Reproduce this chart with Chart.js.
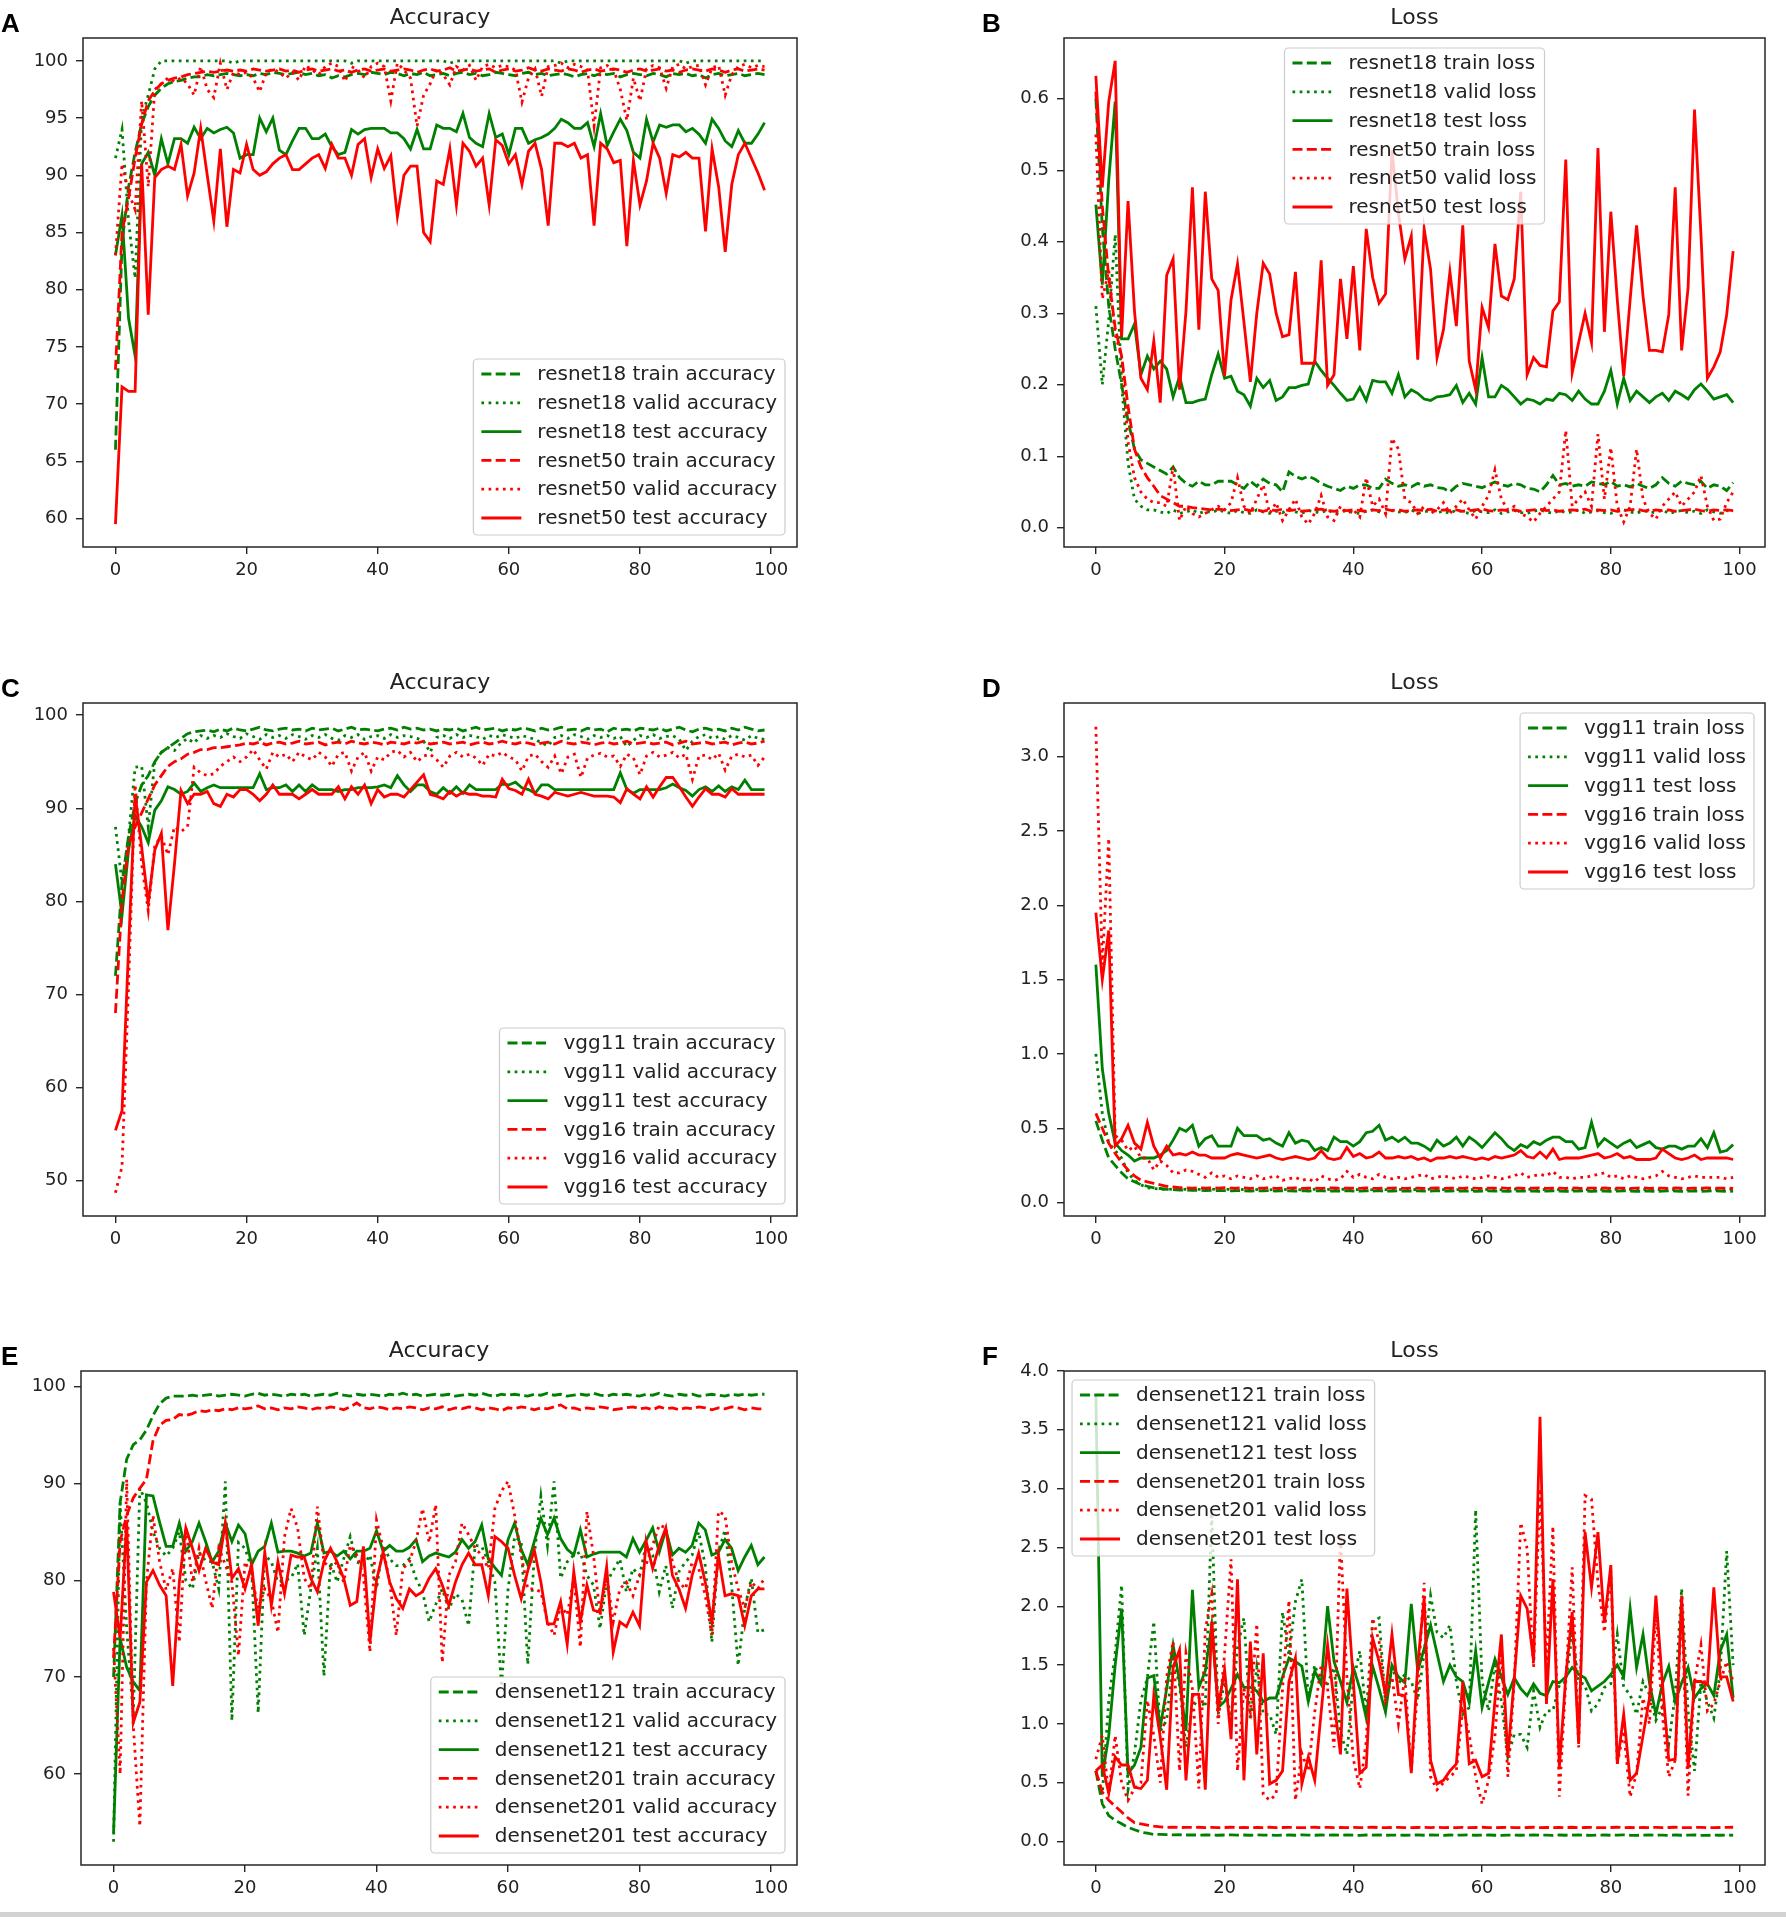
<!DOCTYPE html>
<html>
<head>
<meta charset="utf-8">
<script src="https://cdn.jsdelivr.net/npm/chart.js@4.4.1/dist/chart.umd.min.js"></script>
<style>
  body { margin: 0; background: #fff; width: 1786px; height: 1922px; position: relative; overflow: hidden; }
  canvas { position: absolute; }
  .lbl { position: absolute; font: bold 26px "Liberation Sans", Arial, sans-serif; color: #000; line-height: 26px; }
  .ttl { position: absolute; font: 22px "DejaVu Sans", sans-serif; color: #222; text-align: center; line-height: 28px; height: 28px; }
  .rule { position: absolute; left: 0; top: 1912px; width: 1786px; height: 5px; background: #d2d2d2; }
</style>
</head>
<body>
<div class="rule"></div>
<script>
// epochs on the x axis
const epochs = Array.from({ length: 100 }, (_, i) => i);
const xTicks = [0, 20, 40, 60, 80, 100];

// A: resnet accuracy
const resnet18TrainAcc = [66,84,89,92,94.5,96,97,97.6,98,98.2, 98.3,98.5,98.6,98.6,98.8,98.7,98.8,98.9,98.8,98.7, 98.8,98.7,98.9,98.8,99.0,98.9,98.8,98.9,99.0,98.8, 98.9,98.7,98.8,98.5,98.7,98.6,98.8,98.9,98.8,99.0, 98.9,98.8,99.0,98.9,98.7,98.9,98.8,99.0,98.7,98.8, 98.9,98.7,98.9,99.0,98.8,98.9,98.7,98.8,99.0,98.9, 98.8,98.7,98.9,99.0,98.8,98.9,98.7,98.8,98.9,98.8, 98.6,98.8,98.9,98.7,98.9,98.8,98.9,98.6,98.8,98.9, 98.8,98.7,98.9,98.8,98.6,98.9,98.8,98.9,98.7,98.8, 98.5,98.8,98.9,98.7,98.8,98.9,98.7,98.8,98.9,98.8];
const resnet18ValidAcc = [91.5,94,86,81,95,97,99.3,100,100,100, 100,100,100,100,100,100,100,100,99.8,100, 100,100,100,100,100,100,100,100,100,100, 100,100,100,100,100,100,99.8,100,100,100, 100,100,100,100,100,100,100,100,100,100, 100,99.8,100,100,100,100,100,100,100,100, 100,100,100,100,100,100,100,100,99.8,100, 100,100,100,100,100,100,100,100,100,100, 100,100,100,100,100,100,100,99.8,100,100, 100,100,100,100,100,100,100,100,100,100];
const resnet18TestAcc = [83,86.5,77.5,74.2,91,92,90,93.2,91,93.2, 93.2,92.8,94.2,93.2,94.1,93.7,94,94.2,93.7,91.5, 91.8,91.8,95,93.8,95,92.2,91.8,93,94.1,94.1, 93.2,93.2,93.6,92.5,91.8,92,94,93.6,94,94.1, 94.1,94.1,93.7,93.7,93.2,92.3,94,92.3,92.3,94.4, 94.1,94.1,93.8,95.4,93.3,92.8,92.5,95.4,93.3,93.6, 91.8,94.1,94.1,92.8,93.1,93.3,93.6,94.1,94.9,94.6, 94.1,94.1,94.6,92.5,95.4,92.6,93.8,94.9,93.9,92, 91.5,94.9,92.9,94.4,94.2,94.4,94.4,93.8,94.1,93.6, 92.8,94.9,94.1,93,92.5,93.9,92.8,92.8,93.6,94.6];
const resnet50TrainAcc = [73,85,88,91.5,94.5,96.5,97.4,98,98.3,98.5, 98.6,98.8,98.9,99.0,99.1,99.0,99.1,99.2,99.1,99.2, 99.1,99.3,99.2,99.1,99.2,99.3,99.1,99.2,99.0,99.2, 99.3,99.1,99.2,99.3,99.1,99.2,99.0,99.2,99.3,99.1, 99.2,99.3,99.1,99.2,99.3,99.2,99.0,99.2,99.3,99.1, 99.2,99.4,99.1,99.2,99.3,99.1,99.2,99.3,99.0,99.2, 99.3,99.1,99.2,99.4,99.2,99.1,99.3,99.2,99.1,99.3, 99.2,99.0,99.2,99.3,99.1,99.2,99.3,99.2,99.0,99.2, 99.3,99.1,99.2,99.3,99.1,99.2,99.0,99.2,99.3,99.2, 99.1,99.3,99.2,99.0,99.2,99.3,99.1,99.2,99.3,99.2];
const resnet50ValidAcc = [83,91,88.5,87,96.5,89,97.5,98,98.5,98.2, 98.5,98,97,99.5,97.5,96.8,99.8,97.5,99,98.8, 99,98.5,97.3,99,99.3,99,98.5,99,98.3,99.6, 99.2,98.8,99.5,99.8,99.5,98.2,99.5,99.2,98.5,99.5, 99.8,99.5,96.5,99.8,99.2,98.5,94.3,97,98,99.3, 98.8,97.9,99.5,99.2,99.6,98.3,99.5,99.7,99.4,99.6, 99.5,99.2,96.4,98.5,99.3,96.9,99.5,99.6,99.8,99.4, 99.7,99.5,99.2,94.3,99.4,99.6,99.2,97.5,94.8,98.5, 96.5,99.3,99.6,99.4,97.6,99.5,99.7,99.3,99.5,99.6, 97.9,99.4,99.6,97.0,98.8,99.5,99.7,99.4,99.6,99.5];
const resnet50TestAcc = [59.5,71.5,71.1,71.1,91,77.8,89.8,90.5,90.8,90.5, 92.7,88.2,90.2,94.1,90,86,92.3,85.5,90.5,90.2, 92.7,90.5,90,90.3,91,91.5,91.8,90.5,90.5,91, 91.5,91.8,90.6,92.7,91.5,91.5,90,92.7,93.2,89.8, 92.3,90.6,91.7,86.4,90,90.8,90.8,85,84.2,89.5, 89.2,92.3,87.4,92.8,92.1,90.8,91.5,87.4,93.1,92.6, 91,91.8,89.2,92.1,92.8,90.5,85.6,92.8,92.8,92.5, 92.8,91.5,91.8,85.6,92.8,92.3,91.1,91.3,83.8,91.3, 87.4,89.5,92.8,91.5,88.4,91.8,91.6,92,91.5,91.5, 85.1,92.3,89,83.3,89.2,91.8,92.8,91.5,90.2,88.7];

// B: resnet loss
const resnet18TrainLoss = [0.6,0.42,0.31,0.25,0.2,0.15,0.11,0.095,0.09,0.085, 0.08,0.075,0.085,0.07,0.062,0.058,0.065,0.06,0.06,0.065, 0.065,0.065,0.06,0.055,0.065,0.058,0.068,0.062,0.06,0.05, 0.078,0.072,0.068,0.072,0.068,0.062,0.058,0.055,0.052,0.058, 0.055,0.06,0.06,0.055,0.055,0.068,0.062,0.058,0.06,0.057, 0.062,0.058,0.06,0.056,0.055,0.05,0.058,0.062,0.06,0.058, 0.056,0.06,0.064,0.06,0.058,0.062,0.06,0.055,0.054,0.05, 0.06,0.073,0.06,0.062,0.058,0.06,0.058,0.064,0.062,0.06, 0.065,0.058,0.06,0.057,0.062,0.058,0.055,0.06,0.07,0.062, 0.058,0.065,0.062,0.06,0.065,0.055,0.06,0.058,0.052,0.063];
const resnet18ValidLoss = [0.31,0.2,0.29,0.41,0.2,0.09,0.04,0.03,0.025,0.025, 0.022,0.02,0.025,0.02,0.022,0.025,0.02,0.023,0.021,0.025, 0.022,0.02,0.024,0.021,0.02,0.025,0.022,0.02,0.023,0.021, 0.026,0.022,0.02,0.024,0.022,0.021,0.025,0.02,0.022,0.024, 0.021,0.02,0.023,0.025,0.022,0.02,0.024,0.022,0.021,0.025, 0.02,0.022,0.024,0.021,0.023,0.02,0.025,0.022,0.02,0.024, 0.022,0.021,0.025,0.02,0.022,0.024,0.021,0.02,0.023,0.025, 0.022,0.02,0.024,0.021,0.022,0.025,0.02,0.022,0.024,0.021, 0.02,0.023,0.025,0.022,0.02,0.024,0.022,0.021,0.025,0.02, 0.022,0.024,0.021,0.023,0.02,0.025,0.022,0.02,0.024,0.022];
const resnet18TestLoss = [0.452,0.34,0.486,0.596,0.264,0.264,0.285,0.214,0.24,0.222, 0.233,0.222,0.183,0.212,0.175,0.175,0.178,0.18,0.214,0.243, 0.209,0.212,0.191,0.186,0.17,0.209,0.196,0.206,0.178,0.183, 0.196,0.196,0.199,0.201,0.233,0.22,0.209,0.199,0.188,0.178, 0.18,0.196,0.178,0.206,0.204,0.204,0.188,0.214,0.183,0.193, 0.188,0.18,0.178,0.183,0.184,0.186,0.199,0.175,0.188,0.173, 0.238,0.183,0.183,0.199,0.193,0.183,0.173,0.18,0.178,0.173, 0.18,0.178,0.188,0.186,0.178,0.191,0.18,0.173,0.173,0.191, 0.22,0.173,0.209,0.178,0.191,0.183,0.175,0.183,0.188,0.178, 0.191,0.186,0.18,0.193,0.201,0.191,0.18,0.183,0.186,0.175];
const resnet50TrainLoss = [0.61,0.45,0.35,0.28,0.24,0.17,0.11,0.085,0.07,0.058, 0.045,0.04,0.035,0.03,0.03,0.028,0.027,0.026,0.025,0.026, 0.025,0.024,0.025,0.026,0.024,0.025,0.023,0.025,0.024,0.026, 0.024,0.025,0.023,0.024,0.025,0.026,0.024,0.023,0.025,0.024, 0.025,0.024,0.023,0.025,0.024,0.026,0.024,0.025,0.023,0.024, 0.025,0.024,0.026,0.023,0.025,0.024,0.025,0.023,0.024,0.025, 0.026,0.024,0.023,0.025,0.024,0.025,0.023,0.024,0.025,0.026, 0.024,0.025,0.023,0.024,0.025,0.024,0.026,0.023,0.025,0.024, 0.025,0.023,0.024,0.025,0.026,0.024,0.023,0.025,0.024,0.025, 0.023,0.024,0.025,0.026,0.024,0.023,0.025,0.024,0.025,0.024];
const resnet50ValidLoss = [0.55,0.32,0.36,0.27,0.24,0.12,0.07,0.05,0.04,0.035, 0.035,0.03,0.085,0.01,0.03,0.02,0.015,0.02,0.025,0.03, 0.025,0.035,0.07,0.03,0.02,0.04,0.06,0.02,0.035,0.01, 0.025,0.04,0.015,0.005,0.02,0.045,0.015,0.01,0.03,0.02, 0.025,0.015,0.07,0.03,0.04,0.02,0.125,0.11,0.04,0.035, 0.02,0.03,0.02,0.025,0.035,0.02,0.03,0.04,0.025,0.012, 0.03,0.045,0.081,0.04,0.025,0.03,0.02,0.015,0.008,0.02, 0.03,0.04,0.05,0.136,0.03,0.04,0.05,0.03,0.131,0.04, 0.112,0.03,0.008,0.03,0.11,0.04,0.02,0.012,0.03,0.04, 0.05,0.03,0.04,0.05,0.073,0.03,0.01,0.012,0.035,0.05];
const resnet50TestLoss = [0.632,0.476,0.596,0.653,0.267,0.457,0.303,0.209,0.193,0.261, 0.175,0.353,0.376,0.193,0.303,0.476,0.277,0.47,0.348,0.332, 0.212,0.319,0.369,0.288,0.204,0.3,0.37,0.355,0.3,0.267, 0.27,0.358,0.23,0.23,0.23,0.374,0.199,0.214,0.348,0.264, 0.366,0.248,0.418,0.35,0.314,0.327,0.528,0.44,0.376,0.408, 0.235,0.418,0.361,0.238,0.277,0.358,0.282,0.423,0.233,0.193, 0.308,0.28,0.397,0.324,0.319,0.348,0.47,0.214,0.238,0.227, 0.225,0.303,0.316,0.515,0.217,0.259,0.3,0.259,0.531,0.274, 0.442,0.319,0.212,0.319,0.423,0.324,0.248,0.248,0.246,0.298, 0.476,0.248,0.335,0.585,0.41,0.209,0.225,0.246,0.298,0.387];

// C: vgg accuracy
const vgg11TrainAcc = [72,82,87,90.5,92.5,93.5,95,96,96.5,97, 97.5,98,98.2,98.3,98.4,98.2,98.5,98.3,98.6,98.4, 98.3,98.5,98.7,98.4,98.3,98.5,98.6,98.4,98.5,98.3, 98.6,98.4,98.5,98.6,98.3,98.5,98.7,98.4,98.5,98.4, 98.3,98.5,98.6,98.4,98.7,98.5,98.6,98.4,98.5,98.3, 98.5,98.4,98.6,98.3,98.5,98.7,98.4,98.5,98.6,98.3, 98.5,98.4,98.6,98.5,98.3,98.6,98.4,98.5,98.7,98.4, 98.5,98.3,98.6,98.4,98.5,98.2,98.6,98.4,98.5,98.3, 98.6,98.5,98.4,98.6,98.3,98.5,98.7,98.4,98.2,98.5, 98.6,98.4,98.5,98.3,98.6,98.4,98.7,98.5,98.3,98.4];
const vgg11ValidAcc = [88,82,87,94.4,94.5,88,95,96,96.5,96.2, 97,97.5,97,97.8,97.5,97.8,97.6,98,97.7,97.5, 98,97.7,97.4,97.9,97.6,97.8,97.5,97.9,97.7,97.4, 97.8,97.6,97.9,97.5,97.3,97.8,97.6,97.9,97.4,97.7, 97.8,97.5,97.9,97.6,97.8,97.7,97.5,97.2,96,97.6, 97.8,97.5,97.9,97.6,97.8,97.7,97.4,97.8,97.6,97.9, 97.7,97.5,97.8,97.6,97.4,97,96.7,97.6,97.8,97.5, 97.9,97.7,97.4,97.8,97.6,97.8,97.5,97.7,96.6,97.3, 97.8,97.6,97.9,97.5,97.7,97.8,97.4,96.2,97.2,97.7, 97.9,97.5,97.7,97.4,97.8,97.6,97.3,97.8,97.5,97.4];
const vgg11TestAcc = [84,78.5,85.5,89.2,88,86.3,89.8,90.8,92.3,92, 91.5,91.8,92.7,91.8,92.2,92.5,92.2,92.2,92.2,92.2, 92.2,92.2,93.7,92,92.2,92.2,92.5,91.8,92.5,91.8, 92.5,92,92,92,91.8,92,92,92.2,92.2,92.2, 92.3,92.5,92.2,93.5,92.5,91.8,92.5,92.5,91.8,91.5, 92.2,91.6,92.3,91.6,92.5,92,92,92,92,92.6, 92.5,92.8,92.2,92,91.6,92.5,92.5,92,92,92, 92,92,92,92,92,92,92,93.8,92,91.6, 92,92,92,92,92.2,92.6,92.2,91.9,91.3,92, 92.3,91.8,92.4,91.8,92.3,92,93,92,92,92];
const vgg16TrainAcc = [68,80,86,88,89.5,91,92.5,93.5,94.5,95, 95.3,95.8,96,96.3,96.3,96.5,96.5,96.6,96.7,96.8, 97,96.9,97.1,96.8,97,97.1,96.9,97,97.2,96.9, 97,97.1,96.8,97,97.1,96.9,97.2,97,96.9,97.1, 97,96.8,97.1,97,96.9,97.1,97,97.2,96.9,97, 97.1,96.9,97,97.1,96.8,97,97.1,96.9,97,97.2, 97,96.9,97.1,97,96.8,97,97.1,96.9,97.2,97, 96.9,97.1,97,96.8,97,97.1,96.9,97,97.2,96.9, 97,97.1,96.9,97,97.1,96.8,97,97.2,96.9,97, 97.1,96.9,97,97.1,96.8,97,97.1,96.9,97,97.2];
const vgg16ValidAcc = [48.7,51.5,71,92.5,84,79,86,87,85,88, 87.5,88,94.4,93.8,93.5,93.7,94.5,95,95.5,95, 95.5,96.3,95.2,94.2,96,95.5,95.8,95,96,95.5, 95.2,96,95.5,94.5,95.8,96,94,95.5,96,94, 95.5,95.2,96,96.2,95.5,96,95,95.6,95.8,95.2, 94.4,95.6,96,95.5,95.8,95.4,94.6,95.8,95.6,96, 95.5,95.2,94,95.6,95.8,95,94.4,95.6,93.7,95.5, 95.8,93.3,95.4,95.7,95.9,95.5,95.6,94.5,95.8,95.4, 93.6,95.6,96,95.5,95.7,96,95.4,95.8,93.1,95.6, 95.7,95.2,95.9,94.1,95.6,95.8,95.5,95.7,94.6,95.5];
const vgg16TestAcc = [55.4,57.5,75,91.5,85.8,79.8,85.5,87.3,76.9,84, 91.9,90.5,91.5,91.5,91.8,90.5,90.2,91.5,91.2,92, 92,91.5,90.8,91.5,92.5,91.5,91.5,91.5,91,91.5, 92,91.5,91.5,91.5,92.3,91,92.3,91.5,92.5,90.5, 92,91.2,91.5,91.5,91.2,92,92.8,93.6,91.5,91.3, 91,91.8,91.3,91.7,91.5,91.5,91.3,91.3,91.2,93.1, 92.1,91.9,91.5,93.1,91.5,91.3,91,91.7,91.5,91.3, 91.5,91.7,91.5,91.3,91.3,91.3,91.2,90.6,92.1,91.5, 91,92.3,91.2,92.3,93.3,93.3,92.3,91.2,90.2,91.2, 92.1,91.5,91.5,91.2,92.1,91.5,91.5,91.5,91.5,91.5];

// D: vgg loss
const vgg11TrainLoss = [0.55,0.42,0.3,0.25,0.2,0.16,0.14,0.12,0.11,0.1, 0.095,0.09,0.088,0.085,0.084,0.082,0.083,0.08,0.082,0.081, 0.08,0.079,0.081,0.08,0.078,0.08,0.079,0.081,0.078,0.08, 0.079,0.077,0.08,0.078,0.079,0.08,0.077,0.079,0.078,0.08, 0.078,0.077,0.079,0.078,0.08,0.077,0.078,0.079,0.077,0.078, 0.079,0.077,0.078,0.08,0.077,0.078,0.079,0.077,0.078,0.076, 0.078,0.079,0.077,0.078,0.076,0.078,0.079,0.077,0.078,0.076, 0.077,0.079,0.078,0.076,0.077,0.078,0.079,0.076,0.077,0.078, 0.076,0.077,0.079,0.078,0.076,0.077,0.078,0.076,0.077,0.079, 0.078,0.076,0.077,0.078,0.076,0.077,0.079,0.078,0.076,0.077];
const vgg11ValidLoss = [1.0,0.6,0.4,0.35,0.3,0.2,0.15,0.12,0.1,0.095, 0.09,0.088,0.092,0.087,0.09,0.086,0.089,0.088,0.091,0.087, 0.088,0.09,0.086,0.089,0.087,0.088,0.091,0.086,0.088,0.09, 0.087,0.089,0.086,0.088,0.09,0.087,0.089,0.086,0.088,0.091, 0.087,0.088,0.09,0.086,0.089,0.087,0.088,0.09,0.086,0.089, 0.087,0.088,0.091,0.086,0.088,0.09,0.087,0.089,0.086,0.088, 0.09,0.087,0.089,0.086,0.088,0.091,0.087,0.088,0.09,0.086, 0.089,0.087,0.088,0.09,0.086,0.089,0.087,0.088,0.091,0.086, 0.088,0.09,0.087,0.089,0.086,0.088,0.09,0.087,0.089,0.086, 0.088,0.091,0.087,0.088,0.09,0.086,0.089,0.087,0.088,0.09];
const vgg11TestLoss = [1.6,0.9,0.6,0.4,0.35,0.32,0.28,0.3,0.3,0.3, 0.32,0.35,0.42,0.5,0.48,0.52,0.38,0.43,0.45,0.38, 0.38,0.38,0.5,0.45,0.45,0.45,0.42,0.43,0.4,0.38, 0.47,0.4,0.42,0.41,0.35,0.37,0.35,0.44,0.41,0.41, 0.38,0.41,0.47,0.48,0.52,0.42,0.44,0.41,0.44,0.4, 0.4,0.38,0.35,0.42,0.38,0.4,0.44,0.38,0.44,0.41, 0.37,0.42,0.47,0.43,0.38,0.35,0.39,0.37,0.41,0.39, 0.42,0.44,0.44,0.41,0.41,0.36,0.37,0.54,0.38,0.43, 0.4,0.37,0.4,0.42,0.37,0.39,0.41,0.37,0.36,0.38, 0.38,0.36,0.38,0.38,0.43,0.37,0.47,0.34,0.35,0.39];
const vgg16TrainLoss = [0.6,0.5,0.4,0.33,0.27,0.22,0.18,0.15,0.14,0.13, 0.12,0.11,0.105,0.1,0.1,0.098,0.1,0.097,0.099,0.098, 0.1,0.097,0.098,0.099,0.096,0.098,0.097,0.099,0.096,0.098, 0.097,0.099,0.096,0.098,0.097,0.096,0.098,0.099,0.096,0.097, 0.098,0.096,0.099,0.097,0.096,0.098,0.097,0.099,0.096,0.098, 0.097,0.096,0.098,0.099,0.096,0.097,0.098,0.096,0.099,0.097, 0.096,0.098,0.097,0.099,0.096,0.098,0.097,0.096,0.098,0.099, 0.096,0.097,0.098,0.096,0.099,0.097,0.096,0.098,0.097,0.099, 0.096,0.098,0.097,0.096,0.098,0.099,0.096,0.097,0.098,0.096, 0.099,0.097,0.096,0.098,0.097,0.099,0.096,0.098,0.097,0.096];
const vgg16ValidLoss = [3.2,1.6,2.45,0.45,0.42,0.35,0.38,0.3,0.3,0.22, 0.28,0.25,0.2,0.2,0.22,0.21,0.19,0.17,0.2,0.17, 0.18,0.16,0.18,0.17,0.16,0.18,0.16,0.17,0.18,0.15, 0.16,0.17,0.15,0.16,0.14,0.18,0.16,0.15,0.16,0.21, 0.17,0.19,0.17,0.16,0.19,0.17,0.16,0.17,0.16,0.17, 0.18,0.19,0.16,0.17,0.18,0.17,0.16,0.18,0.17,0.16, 0.17,0.18,0.17,0.16,0.17,0.18,0.2,0.17,0.18,0.19, 0.18,0.21,0.17,0.17,0.16,0.17,0.17,0.18,0.19,0.2, 0.17,0.18,0.16,0.18,0.17,0.16,0.17,0.18,0.21,0.18, 0.17,0.16,0.17,0.18,0.17,0.17,0.17,0.17,0.16,0.17];
const vgg16TestLoss = [1.95,1.5,1.83,0.38,0.43,0.52,0.4,0.36,0.54,0.38, 0.3,0.38,0.32,0.33,0.32,0.34,0.32,0.32,0.3,0.3, 0.3,0.32,0.33,0.32,0.31,0.3,0.31,0.32,0.3,0.29, 0.3,0.31,0.3,0.29,0.3,0.35,0.3,0.29,0.3,0.37, 0.31,0.33,0.3,0.31,0.34,0.3,0.3,0.31,0.3,0.31, 0.29,0.3,0.28,0.3,0.3,0.31,0.3,0.31,0.3,0.29, 0.3,0.29,0.31,0.3,0.31,0.32,0.35,0.31,0.3,0.34, 0.3,0.36,0.29,0.3,0.3,0.3,0.31,0.32,0.33,0.3, 0.31,0.33,0.3,0.31,0.29,0.29,0.29,0.3,0.36,0.33, 0.3,0.29,0.3,0.32,0.29,0.3,0.3,0.3,0.3,0.29];

// E: densenet accuracy
const densenet121TrainAcc = [70,88,92.5,94,94.5,95.5,97,98.2,98.8,99, 99,99,99.1,99,99.1,99.2,99,99.1,99.2,99.1, 99,99.2,99.3,99.1,99.2,99.1,99,99.2,99.1,99.2, 99,99.1,99.2,99.1,99.3,99.1,99,99.2,99.1,99.2, 99.1,99,99.2,99.1,99.3,99.1,99.2,99,99.1,99.2, 99.1,99.2,99,99.1,99.2,99.1,99.3,99.1,99,99.2, 99.1,99.2,99.1,99,99.2,99.1,99.3,99.1,99.2,99, 99.1,99.2,99.1,99.3,99.1,99,99.2,99.1,99.2,99.1, 99,99.2,99.1,99.3,99.1,99,99.2,99.1,99.2,99, 99.1,99.2,99.1,99,99.2,99.1,99.2,99.1,99.2,99.2];
const densenet121ValidAcc = [53,88,75,66,89.5,88,85,83.3,82.5,83.3, 85,80,79.1,82.9,82,81.9,79.1,90.2,65.5,83.9, 83.3,81.2,66.3,82.6,81.9,79.8,80,80.2,81.7,74.3, 79.1,83.3,70.1,81.9,79.8,82.2,84.5,81.9,81.5,82.6, 79.1,83.6,82.2,81.5,81.5,82.2,80.2,78.8,75.7,77.5, 79.1,77,78.6,78,75.3,83.6,83.5,81.9,79.8,69, 79,84.5,84,71.3,82.6,88.7,83.6,90.2,80.2,81.9, 82.6,82.9,80.5,79.5,75,79.8,81,82.2,78.8,81.2, 80.5,83.6,82.6,78.8,81.5,77.1,80.9,81.9,82.6,85, 81.5,73.6,82.9,85.2,79.5,71.2,77.1,80.2,74.6,74.9];
const densenet121TestAcc = [53.9,74,71,69.5,68.6,88.8,88.7,86,83.5,83.5, 85.9,83,84,85.9,84,81.9,83,85.9,84,85.7, 84.8,81.6,83,83.5,85.9,82.9,83,83,82.8,82.5, 82.8,85.9,82.8,83,82.5,83,82.2,83,83,83.3, 85.1,83,83.6,83,83,83.4,84.2,81.9,82.5,82.8, 82.6,82.4,82.9,84.2,83.3,84,85.7,82.2,81.3,80.5, 84.2,85.9,83.2,81.6,84,86.4,84.7,86.4,84.3,83.2, 82.6,85.2,82.4,82.7,82.9,82.9,82.9,82.9,82.4,84.3, 82.9,84.1,85.4,82.9,85.2,82.6,83.3,82.9,83.6,85.9, 85.2,82.6,82.9,84.2,83.3,81,82.4,83.6,81.6,82.4];
const densenet201TrainAcc = [72,84,86.7,88.5,89.5,90.4,94.4,96,96.5,96.6, 97.1,97,97.2,97.5,97.4,97.6,97.5,97.7,97.6,97.8, 97.7,97.8,98,97.7,97.8,97.6,97.8,97.7,97.9,97.8, 97.6,97.8,97.7,97.9,97.8,97.6,97.9,98.3,97.8,97.7, 97.9,97.8,97.6,97.8,97.7,97.9,97.8,97.6,97.8,97.7, 97.9,97.6,97.8,97.7,97.9,97.8,97.6,97.8,97.7,97.5, 97.8,97.7,97.9,97.8,97.6,97.8,97.7,97.9,98.1,97.7, 97.8,97.6,97.8,97.7,97.9,97.8,97.6,97.7,97.8,97.9, 97.7,97.8,97.6,97.9,97.7,97.8,97.6,97.8,97.7,97.9, 97.8,97.6,97.8,97.7,97.9,97.8,97.6,97.8,97.7,97.7];
const densenet201ValidAcc = [73,60,90.4,65,54.6,79.8,86.7,81.9,79,81.2, 73.6,85.5,79.8,83.3,80,77.1,83.3,81.6,79.8,72.2, 81.9,80.5,77.1,79.1,78,74.6,84.5,87.4,85.4,80.2, 79.1,87.6,81.9,81.2,81.9,79.8,83.6,82.6,80.5,72.6, 86.2,83.3,79.8,74.3,81.2,81.9,84,87.4,83.9,87.8, 71.5,80.5,81.9,85.9,84.7,83.3,82.6,81.2,87.4,89.2, 90.2,86.7,82.6,79.1,79.1,78.8,75.7,74.3,77.4,76.4, 80.2,73.1,87.1,82.6,76.4,80.5,75.7,79.1,79.8,78.4, 80.5,81.6,83.6,85.7,85.4,81.9,79.8,79.1,81.9,81.2, 78.4,74.3,87.1,86.7,81.9,79.1,77.1,79.8,79.1,80.2];
const densenet201TestAcc = [78.8,74,86,65.3,67.4,79.8,81,79.5,78.4,69.1, 79.8,85.4,83.3,81,83.3,81.9,81.6,85.9,80.2,81.2, 79.1,81.6,75.3,82.9,77.4,81.9,78.6,82.6,82.4,82.4, 80.2,78.8,81.9,83.3,81.9,80.2,77.4,77.8,83.5,73.6, 80,82.9,79.8,78.1,77.1,79.1,78.4,78.8,80.2,81.2, 79.5,77.4,79.8,81.6,82.8,81.6,81.6,78.4,84.5,84, 83.3,80.5,78.1,81,83.1,79.8,75.5,75.5,77.8,73.4, 80.9,75.7,79.5,76.9,76.7,81.4,72.6,75.7,75.2,76.7, 75.3,84,81.2,83.6,85.4,80.5,79.1,77.1,80.5,82.8, 79.8,75.7,82.6,78.4,78.6,78.4,75.3,78.4,79.1,79.1];

// F: densenet loss
const densenet121TrainLoss = [0.6,0.32,0.22,0.18,0.15,0.12,0.1,0.08,0.07,0.06, 0.06,0.058,0.056,0.057,0.055,0.056,0.054,0.056,0.055,0.053, 0.055,0.056,0.054,0.055,0.053,0.056,0.054,0.055,0.052,0.054, 0.055,0.053,0.056,0.054,0.053,0.055,0.054,0.056,0.053,0.055, 0.054,0.052,0.055,0.054,0.056,0.053,0.054,0.055,0.053,0.054, 0.056,0.053,0.055,0.054,0.052,0.055,0.053,0.054,0.056,0.053, 0.054,0.055,0.053,0.052,0.054,0.055,0.053,0.054,0.056,0.053, 0.054,0.052,0.055,0.053,0.054,0.055,0.053,0.052,0.054,0.055, 0.053,0.054,0.056,0.053,0.052,0.054,0.055,0.053,0.054,0.052, 0.055,0.053,0.054,0.056,0.053,0.052,0.054,0.053,0.055,0.053];
const densenet121ValidLoss = [0.6,0.4,1.2,1.6,2.18,0.44,0.75,1.2,1.39,1.87, 0.94,1.03,1.56,1.33,0.8,1.14,1.22,1.14,2.8,1.08, 1.36,1.03,1.65,1.9,1.03,1.48,1.08,1.08,0.91,1.95, 1.58,2.04,2.23,1.19,1.5,1.34,1.34,1.48,0.94,0.74, 1.36,1.62,1.08,1.87,1.9,1.17,1.48,1.34,1.42,1.36, 1.2,1.6,2.09,1.78,1.73,1.84,1.36,1.08,1.14,2.82, 1.36,1.11,1.5,1.19,0.72,0.91,0.91,0.8,1.28,0.97, 1.11,1.11,1.33,1.36,1.76,1.36,1.33,1.11,1.17,1.31, 1.34,1.76,1.31,1.25,1.08,1.36,1.25,1.03,1.14,0.83, 1.25,2.15,1.11,0.6,1.36,1.19,1.05,1.45,2.47,1.5];
const densenet121TestLoss = [3.8,0.55,0.9,1.5,1.98,0.58,0.65,0.8,1.39,1.41, 0.97,1.3,1.67,1.36,0.94,2.14,1.31,1.45,1.84,1.14, 1.19,1.3,1.42,1.31,1.31,1.28,1.19,1.22,1.22,1.4, 1.56,1.53,1.49,1.19,1.45,1.34,2.0,1.53,1.36,1.18, 1.48,1.3,1.05,1.49,1.3,1.1,1.5,1.4,1.35,2.02, 1.45,1.64,1.84,1.6,1.36,1.5,1.4,1.36,1.18,1.62, 1.14,1.35,1.55,1.4,1.25,1.39,1.3,1.24,1.34,1.26, 1.24,1.36,1.35,1.4,1.48,1.42,1.39,1.28,1.32,1.36, 1.42,1.5,1.4,1.98,1.48,1.76,1.35,1.08,1.34,1.49, 1.19,1.35,1.48,1.22,1.3,1.34,1.24,1.62,1.76,1.22];
const densenet201TrainLoss = [0.6,0.42,0.35,0.3,0.25,0.2,0.16,0.15,0.14,0.13, 0.125,0.12,0.122,0.118,0.12,0.119,0.121,0.118,0.12,0.117, 0.119,0.121,0.118,0.12,0.117,0.119,0.118,0.121,0.117,0.119, 0.12,0.118,0.117,0.119,0.121,0.118,0.12,0.117,0.119,0.118, 0.12,0.117,0.119,0.121,0.118,0.117,0.119,0.12,0.118,0.117, 0.119,0.121,0.118,0.12,0.117,0.119,0.118,0.12,0.117,0.119, 0.121,0.118,0.117,0.119,0.12,0.118,0.117,0.119,0.121,0.118, 0.12,0.117,0.119,0.118,0.121,0.117,0.119,0.12,0.118,0.117, 0.119,0.121,0.118,0.12,0.117,0.119,0.118,0.12,0.117,0.119, 0.121,0.118,0.117,0.119,0.12,0.118,0.117,0.119,0.12,0.121];
const densenet201ValidLoss = [0.7,0.9,0.4,0.9,0.5,0.35,0.45,0.5,1.2,0.9, 0.5,1.4,1.7,0.6,1.6,1.3,0.45,1.8,2.1,1.0, 1.6,2.4,0.6,1.3,1.1,1.85,0.4,0.35,0.4,1.3, 2.05,0.35,0.75,0.6,1.1,1.5,1.3,0.8,2.6,1.4, 0.7,0.45,0.85,1.9,1.7,1.2,1.4,1.0,1.4,0.6, 1.3,2.2,0.55,0.44,0.5,0.55,0.6,1.14,0.91,0.55, 0.32,0.52,0.9,1.62,0.55,1.36,2.71,2.49,1.48,3.0, 1.5,2.68,0.38,1.36,2.33,0.8,2.94,2.91,2.2,1.78, 2.3,0.66,0.94,0.38,0.58,1.22,1.0,1.95,1.08,0.55, 0.69,2.03,0.39,1.36,1.67,1.11,1.17,1.36,1.53,1.36];
const densenet201TestLoss = [0.6,0.65,0.41,0.72,0.65,0.65,0.46,0.45,0.52,1.24, 0.89,0.44,1.48,1.63,0.52,1.25,1.25,0.44,1.87,1.14, 1.46,0.87,2.23,0.52,1.7,0.74,1.6,0.49,0.52,0.6, 1.36,1.56,0.49,0.72,0.52,1.1,1.67,1.19,0.74,2.15, 1.36,0.58,0.63,1.73,1.53,1.25,1.76,1.25,1.24,0.58, 1.5,2.07,0.69,0.49,0.52,0.6,0.66,1.36,0.66,0.69, 0.55,0.58,1.2,1.76,0.72,1.39,2.09,1.98,1.53,3.61, 1.17,2.23,0.63,1.4,1.95,0.83,2.63,2.16,2.63,1.86, 2.35,0.66,1.08,0.52,0.58,0.9,1.22,2.09,1.36,0.69, 0.7,2.09,0.62,1.36,1.36,1.33,2.16,1.4,1.4,1.19];

// tick values
const ticksA = [60, 65, 70, 75, 80, 85, 90, 95, 100];
const ticksB = [0, 0.1, 0.2, 0.3, 0.4, 0.5, 0.6];
const ticksC = [50, 60, 70, 80, 90, 100];
const ticksD = [0, 0.5, 1, 1.5, 2, 2.5, 3];
const ticksE = [60, 70, 80, 90, 100];
const ticksF = [0, 0.5, 1, 1.5, 2, 2.5, 3, 3.5, 4];

const splits = ['train', 'valid', 'test'];
const GREEN = '#008000';
const RED = '#ff0000';
const DASHED = [10, 4.3];
const DOTTED = [2.7, 4.5];

const panels = [
  { letter: 'A', title: 'Accuracy', models: ['resnet18', 'resnet50'], kind: 'accuracy',
    data: [resnet18TrainAcc, resnet18ValidAcc, resnet18TestAcc, resnet50TrainAcc, resnet50ValidAcc, resnet50TestAcc],
    left: 83, top: 38, w: 714, h: 509, yMin: 57.5, yMax: 102, ticks: ticksA, dec: 0, loc: 'lower right' },
  { letter: 'B', title: 'Loss', models: ['resnet18', 'resnet50'], kind: 'loss',
    data: [resnet18TrainLoss, resnet18ValidLoss, resnet18TestLoss, resnet50TrainLoss, resnet50ValidLoss, resnet50TestLoss],
    left: 1064, top: 38, w: 701, h: 509, yMin: -0.027, yMax: 0.685, ticks: ticksB, dec: 1, loc: 'upper center' },
  { letter: 'C', title: 'Accuracy', models: ['vgg11', 'vgg16'], kind: 'accuracy',
    data: [vgg11TrainAcc, vgg11ValidAcc, vgg11TestAcc, vgg16TrainAcc, vgg16ValidAcc, vgg16TestAcc],
    left: 83, top: 703, w: 714, h: 513, yMin: 46.2, yMax: 101.3, ticks: ticksC, dec: 0, loc: 'lower right' },
  { letter: 'D', title: 'Loss', models: ['vgg11', 'vgg16'], kind: 'loss',
    data: [vgg11TrainLoss, vgg11ValidLoss, vgg11TestLoss, vgg16TrainLoss, vgg16ValidLoss, vgg16TestLoss],
    left: 1064, top: 703, w: 701, h: 513, yMin: -0.09, yMax: 3.36, ticks: ticksD, dec: 1, loc: 'upper right' },
  { letter: 'E', title: 'Accuracy', models: ['densenet121', 'densenet201'], kind: 'accuracy',
    data: [densenet121TrainAcc, densenet121ValidAcc, densenet121TestAcc, densenet201TrainAcc, densenet201ValidAcc, densenet201TestAcc],
    left: 81, top: 1371, w: 716, h: 494, yMin: 50.6, yMax: 101.6, ticks: ticksE, dec: 0, loc: 'lower right' },
  { letter: 'F', title: 'Loss', models: ['densenet121', 'densenet201'], kind: 'loss',
    data: [densenet121TrainLoss, densenet121ValidLoss, densenet121TestLoss, densenet201TrainLoss, densenet201ValidLoss, densenet201TestLoss],
    left: 1064, top: 1371, w: 701, h: 494, yMin: -0.2, yMax: 4.0, ticks: ticksF, dec: 1, loc: 'upper left' }
];

// black box round the plot area, like matplotlib spines
const axesFrame = {
  id: 'axesFrame',
  afterDatasetsDraw(chart) {
    const { ctx, chartArea: a } = chart;
    ctx.save();
    ctx.strokeStyle = '#262626';
    ctx.lineWidth = 1.5;
    ctx.strokeRect(a.left, a.top, a.right - a.left, a.bottom - a.top);
    ctx.restore();
  }
};

// legend drawn inside the axes
const boxLegend = {
  id: 'boxLegend',
  afterDraw(chart, args, opts) {
    const { ctx, chartArea: a } = chart;
    const ds = chart.data.datasets;
    ctx.save();
    ctx.font = '20px "DejaVu Sans"';
    const textW = Math.max(...ds.map(d => ctx.measureText(d.label).width));
    const pad = 8, handle = 40, gap = 16, row = 28.8;
    const w = pad + handle + gap + textW + pad;
    const h = 15 + row * (ds.length - 1) + 17;
    let x, y;
    if (opts.loc === 'lower right') { x = a.right - 12 - w; y = a.bottom - 12 - h; }
    else if (opts.loc === 'upper right') { x = a.right - 11 - w; y = a.top + 10; }
    else if (opts.loc === 'upper center') { x = (a.left + a.right - w) / 2; y = a.top + 10; }
    else { x = a.left + 8; y = a.top + 9; }
    ctx.beginPath();
    ctx.roundRect(x, y, w, h, 4);
    ctx.fillStyle = 'rgba(255,255,255,0.8)';
    ctx.fill();
    ctx.strokeStyle = '#cccccc';
    ctx.lineWidth = 1.2;
    ctx.stroke();
    ds.forEach((d, i) => {
      const cy = y + 15 + i * row;
      ctx.strokeStyle = d.borderColor;
      ctx.lineWidth = d.borderWidth;
      ctx.setLineDash(d.borderDash || []);
      ctx.beginPath();
      ctx.moveTo(x + pad, cy);
      ctx.lineTo(x + pad + handle, cy);
      ctx.stroke();
      ctx.setLineDash([]);
      ctx.fillStyle = '#222';
      ctx.textBaseline = 'middle';
      ctx.fillText(d.label, x + pad + handle + gap, cy + 1);
    });
    ctx.restore();
  }
};

const tickFont = { family: 'DejaVu Sans', size: 18 };
const tickGrid = { display: true, drawOnChartArea: false, drawTicks: true, tickLength: 7, color: '#262626', lineWidth: 1.4 };

function addText(cls, text, left, top, width) {
  const el = document.createElement('div');
  el.className = cls;
  el.textContent = text;
  el.style.left = left + 'px';
  el.style.top = top + 'px';
  if (width) el.style.width = width + 'px';
  document.body.appendChild(el);
}

panels.forEach(p => {
  const padL = 80, padT = 26, padR = 12, padB = 50;
  const W = p.w + padL + padR, H = p.h + padT + padB;
  const canvas = document.createElement('canvas');
  canvas.width = W;
  canvas.height = H;
  canvas.style.left = (p.left - padL) + 'px';
  canvas.style.top = (p.top - padT) + 'px';
  canvas.style.width = W + 'px';
  canvas.style.height = H + 'px';
  document.body.appendChild(canvas);

  addText('lbl', p.letter, p.left < 500 ? 1 : 982, p.top - 28);
  addText('ttl', p.title, p.left, p.top - 35, p.w);

  const datasets = p.data.map((values, i) => ({
    label: p.models[Math.floor(i / 3)] + ' ' + splits[i % 3] + ' ' + p.kind,
    data: values,
    borderColor: i < 3 ? GREEN : RED,
    borderDash: i % 3 === 0 ? DASHED : (i % 3 === 1 ? DOTTED : []),
    borderWidth: 2.8,
    pointRadius: 0,
    tension: 0,
    fill: false,
    order: -i
  }));

  new Chart(canvas, {
    type: 'line',
    data: { labels: epochs, datasets },
    options: {
      responsive: false,
      animation: false,
      devicePixelRatio: 1,
      events: [],
      layout: { padding: { left: 0, top: padT, right: padR, bottom: 0 } },
      plugins: { legend: { display: false }, tooltip: { enabled: false }, boxLegend: { loc: p.loc } },
      scales: {
        x: {
          type: 'linear', min: -4.95, max: 103.95,
          afterBuildTicks: s => { s.ticks = xTicks.map(v => ({ value: v })); },
          afterFit: s => { s.height = padB; },
          grid: tickGrid, border: { display: false },
          ticks: { font: tickFont, color: '#222', padding: 6, maxRotation: 0, autoSkip: false, callback: v => String(v) }
        },
        y: {
          type: 'linear', min: p.yMin, max: p.yMax,
          afterBuildTicks: s => { s.ticks = p.ticks.map(v => ({ value: v })); },
          afterFit: s => { s.width = padL; },
          grid: tickGrid, border: { display: false },
          ticks: { font: tickFont, color: '#222', padding: 8, autoSkip: false, callback: v => Number(v).toFixed(p.dec) }
        }
      }
    },
    plugins: [axesFrame, boxLegend]
  });
});
</script>
</body>
</html>
